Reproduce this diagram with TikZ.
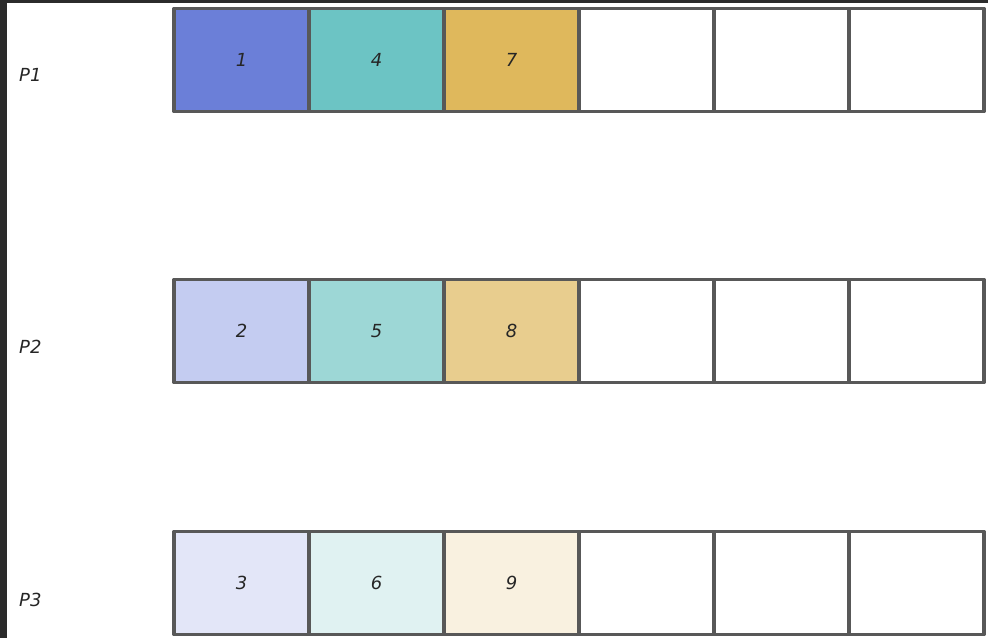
\documentclass[tikz,border=0pt]{standalone}
\usepackage{fontspec}
\setmainfont{DejaVu Sans}
\definecolor{edge}{HTML}{585858}
\definecolor{frame}{HTML}{2B2B2B}
\definecolor{aA}{HTML}{6B7FD8}
\definecolor{aB}{HTML}{6CC4C4}
\definecolor{aC}{HTML}{DFB85C}
\definecolor{bA}{HTML}{C4CCF1}
\definecolor{bB}{HTML}{9DD7D6}
\definecolor{bC}{HTML}{E8CD8E}
\definecolor{cA}{HTML}{E3E6F8}
\definecolor{cB}{HTML}{E0F2F2}
\definecolor{cC}{HTML}{F9F1E0}
\begin{document}
\begin{tikzpicture}[x=1pt,y=-1pt,
  cell/.style={draw=edge,line width=3.6pt,line join=round,minimum width=135pt,minimum height=103pt,inner sep=0pt,outer sep=0pt,anchor=north west,font=\fontsize{18}{21}\selectfont\itshape,text=black!85},
  rowlabel/.style={font=\fontsize{18}{22}\selectfont\itshape,text=black!85,anchor=west,inner sep=0pt}]
\useasboundingbox (0,0) rectangle (988,638);
\fill[white] (0,0) rectangle (988,638);
\fill[frame] (0,0) rectangle (7,638);
\fill[frame] (0,0) rectangle (988,3);
% row 1
\node[cell,fill=aA] (r1c1) at (174,8.5) {1};
\node[cell,fill=aB] (r1c2) at (309,8.5) {4};
\node[cell,fill=aC] (r1c3) at (444,8.5) {7};
\node[cell,fill=white] (r1c4) at (579,8.5) {};
\node[cell,fill=white] (r1c5) at (714,8.5) {};
\node[cell,fill=white] (r1c6) at (849,8.5) {};
% row 2
\node[cell,fill=bA] (r2c1) at (174,279.5) {2};
\node[cell,fill=bB] (r2c2) at (309,279.5) {5};
\node[cell,fill=bC] (r2c3) at (444,279.5) {8};
\node[cell,fill=white] (r2c4) at (579,279.5) {};
\node[cell,fill=white] (r2c5) at (714,279.5) {};
\node[cell,fill=white] (r2c6) at (849,279.5) {};
% row 3
\node[cell,fill=cA] (r3c1) at (174,531.5) {3};
\node[cell,fill=cB] (r3c2) at (309,531.5) {6};
\node[cell,fill=cC] (r3c3) at (444,531.5) {9};
\node[cell,fill=white] (r3c4) at (579,531.5) {};
\node[cell,fill=white] (r3c5) at (714,531.5) {};
\node[cell,fill=white] (r3c6) at (849,531.5) {};
% labels
\node[rowlabel] (p1) at (19,75) {P1};
\node[rowlabel] (p2) at (19,347) {P2};
\node[rowlabel] (p3) at (19,600) {P3};
\end{tikzpicture}
\end{document}
